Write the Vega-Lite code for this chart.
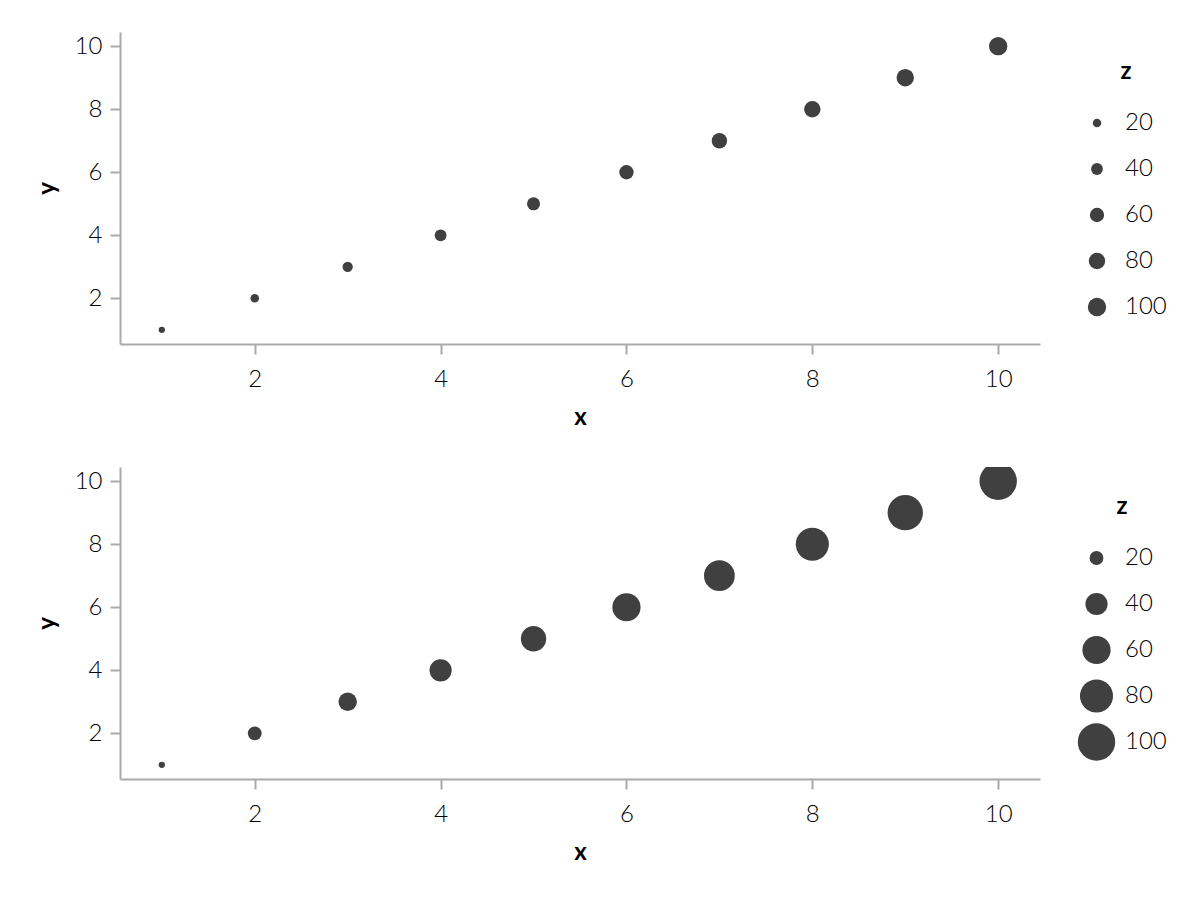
{
  "$schema": "https://vega.github.io/schema/vega-lite/v6.json",
  "padding": {"left": 35, "top": 32, "right": 5, "bottom": 5},
  "background": "white",
  "spacing": 38,
  "config": {
    "font": "Lato",
    "view": {"stroke": null},
    "axis": {
      "grid": false,
      "domainColor": "#aaaaaa",
      "domainWidth": 2,
      "tickColor": "#aaaaaa",
      "tickWidth": 2,
      "tickSize": 10,
      "labelFont": "Lato",
      "labelFontSize": 24,
      "labelFontWeight": 300,
      "labelColor": "#000000",
      "labelPadding": 8,
      "titleFont": "Lato",
      "titleFontSize": 24,
      "titleFontWeight": "bold",
      "titleColor": "#000000",
      "titlePadding": 12
    },
    "axisX": {"labelPadding": 13, "titlePadding": 14},
    "axisY": {"titlePadding": 15},
    "legend": {
      "titleFont": "Lato",
      "titleFontSize": 24,
      "titleFontWeight": "bold",
      "titleColor": "#000000",
      "titleAnchor": "middle",
      "titlePadding": 18,
      "labelFont": "Lato",
      "labelFontSize": 24,
      "labelFontWeight": 300,
      "labelColor": "#000000",
      "clipHeight": 42,
      "rowPadding": 4
    }
  },
  "datasets": {
    "d": [
      {"x": 1, "y": 1, "z": 10},
      {"x": 2, "y": 2, "z": 20},
      {"x": 3, "y": 3, "z": 30},
      {"x": 4, "y": 4, "z": 40},
      {"x": 5, "y": 5, "z": 50},
      {"x": 6, "y": 6, "z": 60},
      {"x": 7, "y": 7, "z": 70},
      {"x": 8, "y": 8, "z": 80},
      {"x": 9, "y": 9, "z": 90},
      {"x": 10, "y": 10, "z": 100}
    ]
  },
  "vconcat": [
    {
      "width": 920,
      "height": 312,
      "data": {"name": "d"},
      "mark": {"type": "circle", "color": "#404040", "opacity": 1, "clip": true},
      "encoding": {
        "x": {"field": "x", "type": "quantitative", "title": "x", "scale": {"domain": [0.55, 10.45], "nice": false, "zero": false}, "axis": {"values": [2, 4, 6, 8, 10]}},
        "y": {"field": "y", "type": "quantitative", "title": "y", "scale": {"domain": [0.55, 10.45], "nice": false, "zero": false}, "axis": {"values": [2, 4, 6, 8, 10]}},
        "size": {"field": "z", "type": "quantitative", "title": "z", "scale": {"domain": [10, 100], "zero": false, "range": [40, 336]}, "legend": {"values": [20, 40, 60, 80, 100], "orient": "none", "legendX": 965, "legendY": 28, "labelOffset": 16}}
      }
    },
    {
      "width": 920,
      "height": 312,
      "data": {"name": "d"},
      "mark": {"type": "circle", "color": "#404040", "opacity": 1, "clip": true},
      "encoding": {
        "x": {"field": "x", "type": "quantitative", "title": "x", "scale": {"domain": [0.55, 10.45], "nice": false, "zero": false}, "axis": {"values": [2, 4, 6, 8, 10]}},
        "y": {"field": "y", "type": "quantitative", "title": "y", "scale": {"domain": [0.55, 10.45], "nice": false, "zero": false}, "axis": {"values": [2, 4, 6, 8, 10]}},
        "size": {"field": "z", "type": "quantitative", "title": "z", "scale": {"domain": [10, 100], "zero": false, "range": [40, 1400]}, "legend": {"values": [20, 40, 60, 80, 100], "orient": "none", "legendX": 957, "legendY": 28, "labelOffset": 9}}
      }
    }
  ],
  "resolve": {"scale": {"size": "independent"}, "legend": {"size": "independent"}}
}
